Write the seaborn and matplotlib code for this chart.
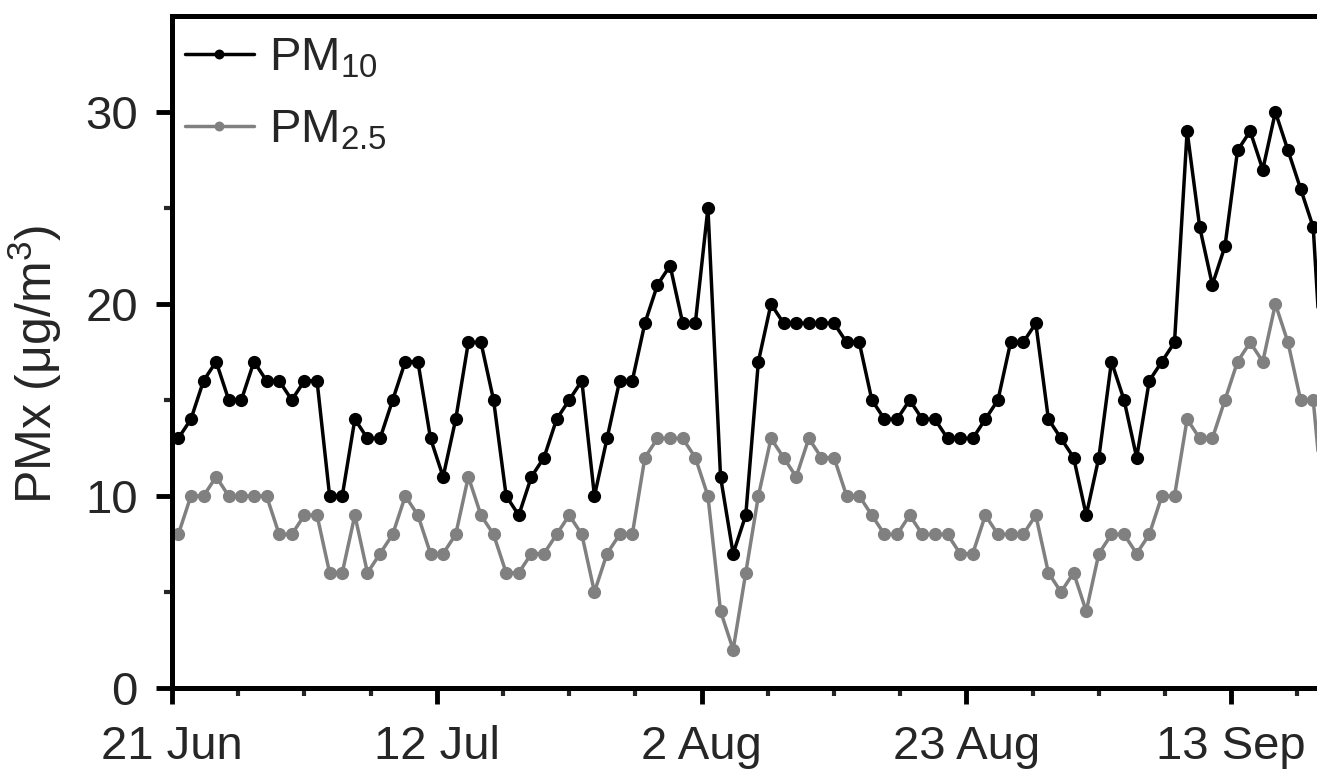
import pandas as pd
import matplotlib
matplotlib.use('Agg')
import matplotlib.pyplot as plt
import matplotlib.dates as mdates
from matplotlib.ticker import FixedLocator
import seaborn as sns

# --- DATA (daily means, ug/m3) ---
START_DATE = '2019-06-21'
pm10 = [13, 14, 16, 17, 15, 15, 17, 16, 16, 15, 16, 16, 10, 10, 14, 13, 13, 15, 17, 17,
        13, 11, 14, 18, 18, 15, 10, 9, 11, 12, 14, 15, 16, 10, 13, 16, 16, 19, 21, 22,
        19, 19, 25, 11, 7, 9, 17, 20, 19, 19, 19, 19, 19, 18, 18, 15, 14, 14, 15, 14,
        14, 13, 13, 13, 14, 15, 18, 18, 19, 14, 13, 12, 9, 12, 17, 15, 12, 16, 17, 18,
        29, 24, 21, 23, 28, 29, 27, 30, 28, 26, 24, 13]
pm25 = [8, 10, 10, 11, 10, 10, 10, 10, 8, 8, 9, 9, 6, 6, 9, 6, 7, 8, 10, 9,
        7, 7, 8, 11, 9, 8, 6, 6, 7, 7, 8, 9, 8, 5, 7, 8, 8, 12, 13, 13,
        13, 12, 10, 4, 2, 6, 10, 13, 12, 11, 13, 12, 12, 10, 10, 9, 8, 8, 9, 8,
        8, 8, 7, 7, 9, 8, 8, 8, 9, 6, 5, 6, 4, 7, 8, 8, 7, 8, 10, 10,
        14, 13, 13, 15, 17, 18, 17, 20, 18, 15, 15, 8]
series_names = ['PM10', 'PM2.5']
legend_labels = [r'PM$_{\mathrm{10}}$', r'PM$_{\mathrm{2.5}}$']
tick_labels = ['21 Jun', '12 Jul', '2 Aug', '23 Aug', '13 Sep']
y_label = r'PMx (μg/m$^{\mathrm{3}}$)'

# --- STYLE ---
sns.set_theme(style='ticks')
plt.rcParams['font.family'] = ['Liberation Sans', 'DejaVu Sans']
plt.rcParams['mathtext.fontset'] = 'custom'
plt.rcParams['mathtext.rm'] = 'Liberation Sans'
plt.rcParams['mathtext.it'] = 'Liberation Sans:italic'
plt.rcParams['mathtext.bf'] = 'Liberation Sans:bold'

# --- BUILD TABLE ---
start = pd.Timestamp(START_DATE)
dates = start + pd.to_timedelta(range(len(pm10)), unit='D') + pd.Timedelta(hours=12)
df = pd.concat([
    pd.DataFrame({'date': dates, 'value': pm10, 'series': series_names[0]}),
    pd.DataFrame({'date': dates, 'value': pm25, 'series': series_names[1]}),
])

# --- FIGURE ---
fig = plt.figure(figsize=(13.17, 7.7), dpi=100)
ax = fig.add_axes([0.1306, 0.1065, 0.8694, 0.8727])

sns.lineplot(data=df, x='date', y='value', hue='series', hue_order=series_names,
             palette=['#000000', '#808080'], marker='o', legend=False, ax=ax)
# seaborn sets its own marker edge, so fix the look on the lines directly
for line in ax.lines:
    line.set_linewidth(2.5)
    line.set_markersize(9.5)
    line.set_markeredgewidth(0)

ax.set_xlim(start, start + pd.Timedelta(days=90.8))
ax.set_ylim(0, 35)

# x ticks: every 21 days, 3 minor ticks in between
major_dates = [start + pd.Timedelta(days=21 * i) for i in range(len(tick_labels))]
minor_dates = [start + pd.Timedelta(days=5.25 * i) for i in range(18) if i % 4 != 0]
ax.xaxis.set_major_locator(FixedLocator(mdates.date2num(major_dates)))
ax.xaxis.set_minor_locator(FixedLocator(mdates.date2num(minor_dates)))
ax.set_xticklabels(tick_labels)
ax.set_yticks([0, 10, 20, 30])
ax.set_yticks([5, 15, 25], minor=True)

ax.tick_params(which='major', length=11.5, width=3.5, labelsize=34, color='black')
ax.tick_params(which='minor', length=5.5, width=3)
ax.tick_params(axis='x', which='major', pad=15)
ax.tick_params(axis='y', which='major', pad=13)

for side in ['left', 'top', 'bottom']:
    ax.spines[side].set_linewidth(3.6)
    ax.spines[side].set_color('black')
    ax.spines[side].set_capstyle('projecting')
ax.spines['right'].set_visible(False)

ax.set_xlabel('')
ax.set_ylabel(y_label, fontsize=36)
ax.yaxis.set_label_coords(-0.094, 0.482)

ax.legend(handles=ax.lines[:2], labels=legend_labels, loc='upper left',
          bbox_to_anchor=(0.0114, 0.97), frameon=False, fontsize=34,
          borderpad=0, borderaxespad=0, handlelength=1.45, handletextpad=0.32,
          labelspacing=0.6, markerscale=0.75)

fig.savefig('out.png', dpi=100)
